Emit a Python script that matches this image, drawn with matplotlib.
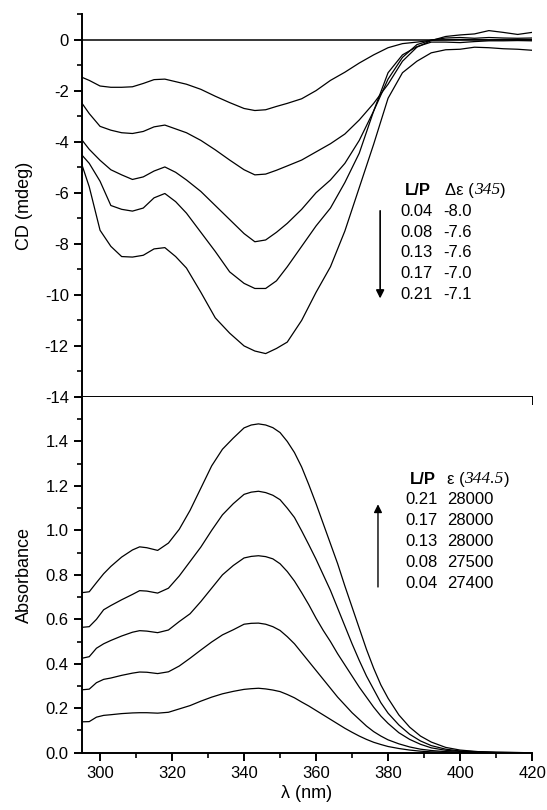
import numpy as np
import matplotlib
matplotlib.use("Agg")
import matplotlib.pyplot as plt
from matplotlib.ticker import MultipleLocator

plt.rcParams['font.family'] = ['Liberation Sans', 'DejaVu Sans']
plt.rcParams['axes.unicode_minus'] = False

# CD spectra (mdeg), one per L/P ratio
cd_wl = [295, 297, 300, 303, 306, 309, 312, 315, 318, 321, 324, 328, 332, 336, 340, 343,
         346, 349, 352, 356, 360, 364, 368, 372, 376, 380, 384, 388, 392, 396, 400, 404,
         408, 412, 416, 420]
cd_004 = [-1.48, -1.6, -1.82, -1.87, -1.87, -1.85, -1.72, -1.57, -1.55, -1.65, -1.75, -1.95,
          -2.22, -2.47, -2.7, -2.78, -2.75, -2.62, -2.5, -2.32, -2.0, -1.6, -1.28, -0.92,
          -0.6, -0.32, -0.16, -0.1, -0.03, -0.01, 0.0, 0.0, -0.01, 0.0, 0.0, 0.0]
cd_008 = [-2.5, -2.9, -3.4, -3.55, -3.65, -3.68, -3.6, -3.42, -3.35, -3.5, -3.65, -3.95,
          -4.32, -4.72, -5.1, -5.3, -5.27, -5.12, -4.95, -4.72, -4.4, -4.08, -3.7, -3.15,
          -2.5, -1.75, -0.85, -0.3, -0.04, 0.12, 0.18, 0.22, 0.35, 0.28, 0.2, 0.28]
cd_013 = [-3.94, -4.3, -4.73, -5.1, -5.3, -5.48, -5.38, -5.15, -4.99, -5.2, -5.5, -5.95,
          -6.5, -7.05, -7.6, -7.92, -7.85, -7.55, -7.2, -6.65, -6.0, -5.5, -4.85, -3.95,
          -2.8, -1.55, -0.7, -0.2, -0.02, 0.06, 0.08, 0.05, 0.08, 0.06, 0.05, 0.06]
cd_017 = [-4.53, -4.85, -5.55, -6.5, -6.65, -6.72, -6.6, -6.2, -6.03, -6.35, -6.8, -7.55,
          -8.3, -9.1, -9.55, -9.75, -9.75, -9.45, -8.9, -8.1, -7.3, -6.6, -5.6, -4.45,
          -2.8, -1.3, -0.6, -0.28, -0.1, -0.1, -0.12, -0.08, -0.05, -0.05, -0.04, -0.05]
cd_021 = [-4.92, -5.77, -7.47, -8.1, -8.5, -8.52, -8.45, -8.2, -8.15, -8.5, -8.95, -9.9,
          -10.9, -11.5, -12.0, -12.2, -12.3, -12.1, -11.85, -11.0, -9.9, -8.9, -7.5, -5.8,
          -4.1, -2.3, -1.3, -0.85, -0.52, -0.4, -0.38, -0.3, -0.32, -0.36, -0.38, -0.42]

# absorbance spectra
ab_wl = [295, 297, 299, 301, 303, 306, 309, 311, 313, 316, 319, 322, 325, 328, 331, 334,
         337, 340, 342, 344, 346, 348, 350, 352, 354, 356, 358, 360, 362, 364, 366, 368,
         370, 372, 374, 376, 378, 380, 383, 386, 389, 392, 396, 400, 405, 410, 420]
ab_021 = [0.720, 0.724, 0.765, 0.805, 0.838, 0.88, 0.912, 0.926, 0.922, 0.910, 0.943, 1.005,
          1.09, 1.19, 1.29, 1.365, 1.415, 1.461, 1.474, 1.479, 1.474,
          1.462, 1.44, 1.40, 1.35, 1.285, 1.205, 1.12, 1.03, 0.94, 0.85, 0.75, 0.655, 0.56,
          0.465, 0.38, 0.305, 0.245,
          0.17, 0.115, 0.075, 0.048, 0.024, 0.012, 0.005, 0.002, 0.0]
ab_017 = [0.564, 0.567, 0.60, 0.643, 0.662, 0.688, 0.712, 0.729, 0.727, 0.718, 0.74, 0.795,
          0.86, 0.925, 1.0, 1.07, 1.12, 1.162, 1.172, 1.176, 1.17,
          1.158, 1.138, 1.10, 1.058, 0.998, 0.935, 0.87, 0.80, 0.73, 0.65, 0.57, 0.49, 0.415,
          0.345, 0.285, 0.225, 0.178,
          0.125, 0.083, 0.053, 0.032, 0.016, 0.008, 0.004, 0.002, 0.0]
ab_013 = [0.425, 0.432, 0.47, 0.49, 0.505, 0.525, 0.542, 0.549, 0.547, 0.540, 0.552, 0.59,
          0.625, 0.68, 0.74, 0.80, 0.842, 0.876, 0.883, 0.886, 0.882,
          0.872, 0.85, 0.815, 0.772, 0.72, 0.665, 0.605, 0.55, 0.50, 0.445, 0.395, 0.345,
          0.295, 0.25, 0.205, 0.165, 0.132,
          0.09, 0.06, 0.038, 0.022, 0.011, 0.006, 0.003, 0.001, 0.0]
ab_008 = [0.283, 0.286, 0.315, 0.33, 0.336, 0.348, 0.358, 0.363, 0.362, 0.356, 0.364, 0.39,
          0.425, 0.462, 0.498, 0.53, 0.553, 0.578, 0.582, 0.583, 0.578,
          0.567, 0.55, 0.522, 0.49, 0.45, 0.41, 0.37, 0.33, 0.29, 0.25, 0.215, 0.18, 0.15,
          0.12, 0.095, 0.075, 0.058,
          0.04, 0.026, 0.016, 0.01, 0.005, 0.003, 0.001, 0.0, 0.0]
ab_004 = [0.139, 0.14, 0.16, 0.168, 0.171, 0.176, 0.179, 0.18, 0.18, 0.178, 0.182, 0.197,
          0.212, 0.232, 0.25, 0.265, 0.276, 0.285, 0.288, 0.29, 0.287,
          0.282, 0.275, 0.262, 0.247, 0.228, 0.21, 0.19, 0.17, 0.15, 0.13, 0.11, 0.092,
          0.075, 0.06, 0.047, 0.037, 0.028,
          0.019, 0.012, 0.007, 0.004, 0.002, 0.001, 0.0, 0.0, 0.0]

cd_lp = ["0.04", "0.08", "0.13", "0.17", "0.21"]
cd_de = ["-8.0", "-7.6", "-7.6", "-7.0", "-7.1"]
ab_lp = ["0.21", "0.17", "0.13", "0.08", "0.04"]
ab_eps = ["28000", "28000", "28000", "27500", "27400"]

fig = plt.figure(figsize=(5.47, 8.10), dpi=100)
ax1 = fig.add_axes([0.150, 0.5099, 0.8227, 0.4728])
ax2 = fig.add_axes([0.150, 0.0707, 0.8227, 0.4392])

def style(ax):
    for s in ['top', 'right']:
        ax.spines[s].set_visible(False)
    for s in ['left', 'bottom']:
        ax.spines[s].set_linewidth(1.4)
    ax.tick_params(which='major', direction='out', length=6, width=1.4, labelsize=12)
    ax.tick_params(which='minor', direction='out', length=3.5, width=1.2)
    ax.set_xlim(295, 420)
    ax.xaxis.set_major_locator(MultipleLocator(20))
    ax.xaxis.set_minor_locator(MultipleLocator(10))

lw = 0.9
for s in [cd_004, cd_008, cd_013, cd_017, cd_021]:
    ax1.plot(cd_wl, s, color='black', lw=lw)
ax1.axhline(0, color='black', lw=1.1)
style(ax1)
ax1.set_ylim(-14, 1)
ax1.yaxis.set_major_locator(MultipleLocator(2))
ax1.yaxis.set_minor_locator(MultipleLocator(1))
ax1.tick_params(axis='x', labelbottom=False)
ax1.set_ylabel("CD (mdeg)", fontsize=13)
ax1.yaxis.set_label_coords(-0.11, 0.5)

for s in [ab_021, ab_017, ab_013, ab_008, ab_004]:
    ax2.plot(ab_wl, s, color='black', lw=lw)
style(ax2)
ax2.set_ylim(0, 1.6)
ax2.yaxis.set_major_locator(MultipleLocator(0.2))
ax2.yaxis.set_minor_locator(MultipleLocator(0.1))
ax2.set_yticks([0, 0.2, 0.4, 0.6, 0.8, 1.0, 1.2, 1.4])
ax2.set_yticklabels(["0.0", "0.2", "0.4", "0.6", "0.8", "1.0", "1.2", "1.4"])
ax2.set_ylabel("Absorbance", fontsize=13)
ax2.yaxis.set_label_coords(-0.11, 0.5)
ax2.set_xlabel("λ (nm)", fontsize=13, labelpad=3)

fs = 12

def header(ax, x_lp, x_val, y, sym, num):
    ax.text(x_lp, y, "L/P", fontsize=fs, fontweight='bold', va='center', ha='left')
    t1 = ax.text(x_val, y, sym + " (", fontsize=fs, va='center', ha='left')
    t2 = ax.annotate(num, xy=(1, 0), xycoords=t1, va='bottom', ha='left', fontsize=fs + 0.5,
                     fontstyle='italic', family='Liberation Serif')
    ax.annotate(")", xy=(1, 0), xycoords=t2, va='bottom', ha='left', fontsize=fs)

# top legend table
header(ax1, 384.7, 395.8, -5.9, "Δε", "345")
for i, (a, b) in enumerate(zip(cd_lp, cd_de)):
    y = -6.73 - 0.81 * i
    ax1.text(383.3, y, a, fontsize=fs, va='center', ha='left')
    ax1.text(395.2, y, b, fontsize=fs, va='center', ha='left')
ax1.annotate("", xy=(377.8, -10.25), xytext=(377.8, -6.6),
             arrowprops=dict(arrowstyle='-|>', color='black', lw=1.2, mutation_scale=12))

# bottom legend table
header(ax2, 386.1, 396.3, 1.228, "ε", "344.5")
for i, (a, b) in enumerate(zip(ab_lp, ab_eps)):
    y = 1.138 - 0.094 * i
    ax2.text(384.7, y, a, fontsize=fs, va='center', ha='left')
    ax2.text(396.3, y, b, fontsize=fs, va='center', ha='left')
ax2.annotate("", xy=(377.2, 1.13), xytext=(377.2, 0.733),
             arrowprops=dict(arrowstyle='-|>', color='black', lw=1.0, mutation_scale=12))

fig.savefig("out.png", dpi=100)
